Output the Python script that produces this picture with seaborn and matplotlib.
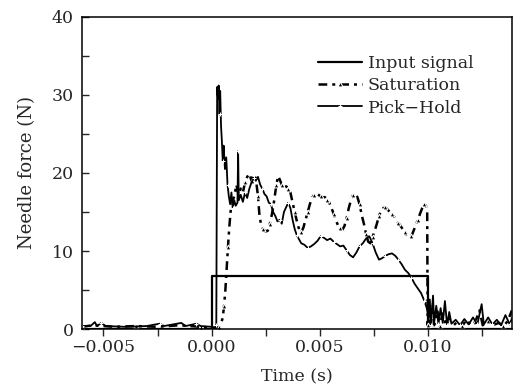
import numpy as np
import pandas as pd
import matplotlib
matplotlib.use("Agg")
import matplotlib.pyplot as plt
import seaborn as sns
from matplotlib.ticker import MultipleLocator

# ---- data (time in ms, force in N) ----
input_t = [-6.0, 0.0, 0.0, 10.0, 10.0, 13.9]
input_v = [0.0, 0.0, 6.8, 6.8, 0.0, 0.0]

sat_t = [-6.0, -5.5, -4.5, -3.5, -2.5, -1.5, -0.5, 0.0, 0.2, 0.35, 0.45, 0.52, 0.58, 0.64,
         0.70, 0.76, 0.82, 0.88, 0.95, 1.05, 1.15, 1.25, 1.35, 1.45, 1.55, 1.65, 1.75, 1.85,
         1.95, 2.05, 2.15, 2.22, 2.30, 2.40, 2.50, 2.60, 2.70, 2.80, 2.90, 3.00, 3.08, 3.15,
         3.25, 3.35, 3.45, 3.55, 3.65, 3.75, 3.85, 3.95, 4.05, 4.15, 4.25, 4.35, 4.45, 4.55,
         4.65, 4.75, 4.85, 4.95, 5.05, 5.15, 5.25, 5.35, 5.45, 5.55, 5.65, 5.75, 5.85, 5.95,
         6.05, 6.15, 6.25, 6.35, 6.45, 6.55, 6.65, 6.75, 6.85, 6.95, 7.05, 7.15, 7.25, 7.35,
         7.45, 7.55, 7.65, 7.75, 7.85, 7.95, 8.05, 8.15, 8.25, 8.35, 8.45, 8.55, 8.65, 8.75,
         8.85, 8.95, 9.05, 9.15, 9.25, 9.35, 9.45, 9.55, 9.65, 9.75, 9.85, 9.92, 9.98, 10.0,
         10.05, 10.12, 10.2, 10.3, 10.45, 10.55, 10.7, 10.85, 11.0, 11.2, 11.4, 11.6, 11.8,
         12.0, 12.2, 12.4, 12.55, 12.8, 13.0, 13.3, 13.5, 13.7, 13.9]
sat_v = [0.3, 0.5, 0.3, 0.4, 0.3, 0.5, 0.3, 0.2, 0.1, 0.3, 0.8, 1.5, 3.0, 5.0,
         7.8, 10.5, 13.0, 15.0, 16.3, 17.0, 18.5, 17.2, 18.0, 17.5, 18.8, 19.5, 19.9, 19.0,
         19.8, 19.3, 17.0, 14.5, 13.3, 12.8, 12.5, 12.6, 13.5, 14.8, 16.5, 18.5, 19.6, 19.2,
         18.5, 18.0, 18.3, 18.0, 17.5, 16.2, 15.0, 13.8, 12.8, 12.4, 13.0, 14.0, 15.0, 16.0,
         16.8, 17.2, 17.4, 17.2, 17.0, 16.9, 16.9, 16.6, 16.2, 15.5, 14.8, 14.0, 13.3, 12.9,
         12.7, 13.2, 14.2, 15.5, 16.5, 17.2, 17.3, 16.9, 16.0, 14.6, 13.5, 12.2, 11.2, 11.0,
         11.8, 12.6, 13.5, 14.5, 15.2, 15.5, 15.6, 15.3, 15.0, 14.7, 14.4, 14.0, 13.6, 13.2,
         12.8, 12.4, 12.0, 11.8, 11.9, 12.6, 13.3, 14.0, 14.8, 15.5, 16.0, 15.8, 15.0, 0.5,
         2.0, 0.4, 3.2, 0.5, 2.4, 0.4, 2.0, 0.5, 1.4, 0.5, 1.0, 0.4, 1.2,
         0.5, 0.9, 2.4, 0.5, 1.0, 0.5, 0.8, 0.4, 1.0, 2.4]

ph_t = [-6.0, -5.6, -5.4, -5.3, -5.1, -4.9, -4.0, -3.0, -2.4, -2.2, -1.4, -1.2, -0.7, -0.5,
        0.0, 0.15, 0.22, 0.26, 0.30, 0.33, 0.37, 0.40, 0.44, 0.48, 0.52, 0.56, 0.62, 0.68,
        0.74, 0.80, 0.86, 0.92, 0.98, 1.05, 1.12, 1.20, 1.23, 1.26, 1.35, 1.45, 1.55, 1.65,
        1.75, 1.85, 1.95, 2.05, 2.15, 2.25, 2.35, 2.45, 2.55, 2.65, 2.75, 2.85, 2.95, 3.05,
        3.15, 3.25, 3.35, 3.45, 3.55, 3.65, 3.75, 3.85, 3.95, 4.05, 4.15, 4.3, 4.45, 4.6,
        4.75, 4.9, 5.05, 5.2, 5.35, 5.5, 5.65, 5.8, 5.95, 6.1, 6.25, 6.4, 6.55, 6.7, 6.85,
        7.0, 7.15, 7.3, 7.45, 7.6, 7.75, 7.9, 8.05, 8.2, 8.35, 8.5, 8.65, 8.8, 8.95, 9.1,
        9.25, 9.4, 9.55, 9.7, 9.85, 9.95, 10.05,
        10.1, 10.15, 10.25, 10.3, 10.4, 10.5, 10.6, 10.7, 10.8, 10.9, 11.0, 11.1, 11.3, 11.5,
        11.7, 11.9, 12.1, 12.3, 12.5, 12.6, 12.8, 13.0, 13.2, 13.4, 13.6, 13.8, 13.9]
ph_v = [0.4, 0.4, 0.9, 0.4, 0.8, 0.4, 0.3, 0.4, 0.7, 0.4, 0.8, 0.4, 0.7, 0.4,
        0.3, 0.2, 0.5, 31.0, 29.5, 31.2, 27.5, 30.5, 26.0, 24.0, 21.5, 23.5, 20.5, 22.0,
        18.5, 17.0, 16.0, 17.5, 15.5, 16.5, 15.8, 16.2, 22.8, 16.5, 17.2, 16.3, 17.5, 16.8,
        18.0, 18.8, 19.3, 19.0, 19.5, 18.5, 18.0, 17.3, 17.0, 16.2, 16.0, 15.0, 14.5, 13.8,
        14.0, 13.5, 15.0, 15.6, 16.2, 15.5, 14.0, 12.8, 12.0, 11.5, 11.0, 10.8, 10.4, 10.6,
        10.9, 11.3, 11.9, 11.7, 11.4, 11.6, 11.2, 10.9, 10.6, 10.7, 10.1, 9.5, 9.2, 9.8, 10.6,
        11.0, 11.6, 11.9, 11.0, 9.8, 8.9, 9.1, 9.4, 9.6, 9.7, 9.4, 8.9, 8.3, 7.6, 7.2,
        6.6, 5.8, 5.2, 4.6, 3.6, 2.8, 1.5,
        3.8, 0.5, 4.3, 0.8, 3.0, 0.6, 2.7, 0.8, 3.6, 0.5, 2.2, 0.7, 1.2, 0.5,
        1.3, 0.6, 1.5, 0.6, 3.2, 0.6, 1.5, 0.6, 1.2, 0.5, 1.8, 0.6, 1.4]

series_names = ["Input signal", "Saturation", "Pick\u2212Hold"]

df_in = pd.DataFrame({"t": np.array(input_t) / 1000.0, "v": input_v})
df_sat = pd.DataFrame({"t": np.array(sat_t) / 1000.0, "v": sat_v})
df_ph = pd.DataFrame({"t": np.array(ph_t) / 1000.0, "v": ph_v})

sns.set_style("ticks")
plt.rcParams["font.family"] = ["DejaVu Serif"]

fig = plt.figure(figsize=(5.15, 3.9), dpi=100)
ax = fig.add_axes([0.159, 0.156, 0.835, 0.801])

sns.lineplot(data=df_in, x="t", y="v", ax=ax, estimator=None, sort=False,
             color="black", lw=1.6, label=series_names[0])
sns.lineplot(data=df_sat, x="t", y="v", ax=ax, estimator=None, sort=False,
             color="black", lw=1.8, linestyle=(0, (3.5, 2.0, 1.2, 2.0)),
             marker="^", markersize=3.5, markevery=3, label=series_names[1])
sns.lineplot(data=df_ph, x="t", y="v", ax=ax, estimator=None, sort=False,
             color="black", lw=1.3, marker="+", markersize=3.5, markevery=4,
             label=series_names[2])

ax.set_xlim(-0.0060, 0.0139)
ax.set_ylim(0, 40)
ax.xaxis.set_major_locator(MultipleLocator(0.005))
ax.xaxis.set_minor_locator(MultipleLocator(0.0025))
ax.yaxis.set_major_locator(MultipleLocator(10))
ax.yaxis.set_minor_locator(MultipleLocator(5))
ax.xaxis.set_major_formatter(matplotlib.ticker.FuncFormatter(
    lambda x, p: ("\u2212" if x < -1e-9 else "") + f"{abs(x):.3f}"))
ax.tick_params(axis="x", which="both", direction="out", length=5, width=1.0,
               labelsize=12.5, pad=2)
ax.tick_params(axis="y", which="both", direction="in", length=5, width=1.0,
               labelsize=12.5, pad=6)
for s in ax.spines.values():
    s.set_linewidth(1.1)
    s.set_color("black")

ax.set_xlabel("Time (s)", fontsize=12.5, labelpad=9)
ax.set_ylabel("Needle force (N)", fontsize=13, labelpad=11)

leg = ax.legend(loc="upper left", bbox_to_anchor=(0.53, 0.905), frameon=False,
                fontsize=12.5, handlelength=2.5, handletextpad=0.35,
                labelspacing=0.3, borderpad=0)

fig.savefig("out.png", dpi=100)
